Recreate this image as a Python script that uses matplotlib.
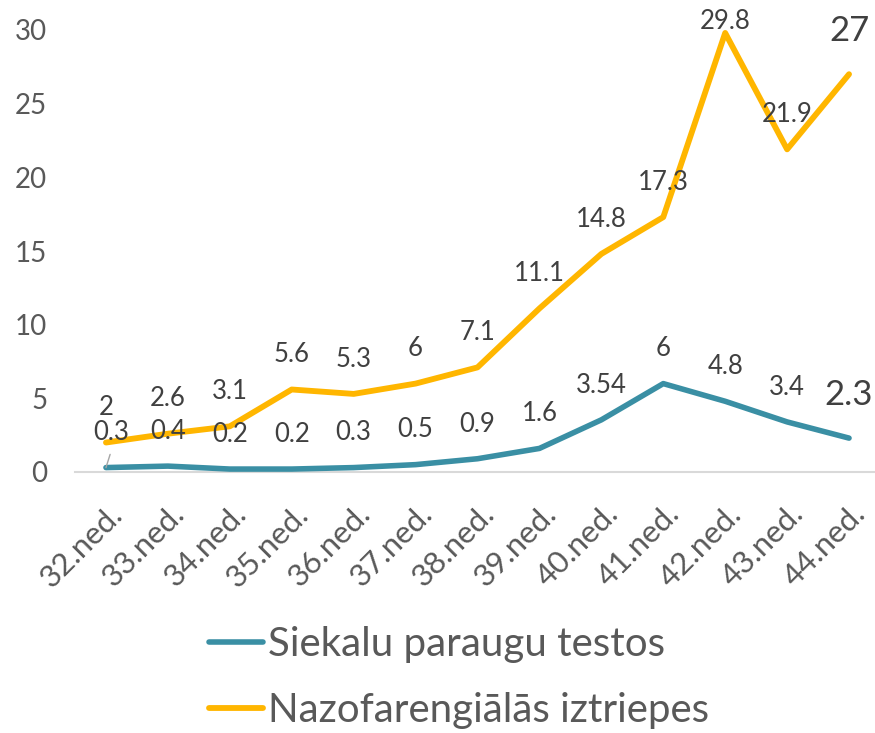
import matplotlib
matplotlib.use("Agg")
import matplotlib.pyplot as plt
from matplotlib.transforms import ScaledTranslation
from matplotlib.lines import Line2D

weeks = ["32.ned.", "33.ned.", "34.ned.", "35.ned.", "36.ned.", "37.ned.", "38.ned.",
         "39.ned.", "40.ned.", "41.ned.", "42.ned.", "43.ned.", "44.ned."]
saliva = [0.3, 0.4, 0.2, 0.2, 0.3, 0.5, 0.9, 1.6, 3.54, 6, 4.8, 3.4, 2.3]
saliva_labels = ["0.3", "0.4", "0.2", "0.2", "0.3", "0.5", "0.9", "1.6", "3.54", "6", "4.8", "3.4", "2.3"]
naso = [2, 2.6, 3.1, 5.6, 5.3, 6, 7.1, 11.1, 14.8, 17.3, 29.8, 21.9, 27]
naso_labels = ["2", "2.6", "3.1", "5.6", "5.3", "6", "7.1", "11.1", "14.8", "17.3", "29.8", "21.9", "27"]
series_names = ["Siekalu paraugu testos", "Nazofarengiālās iztriepes"]
yticks = [0, 5, 10, 15, 20, 25, 30]

TEAL = "#3A8FA4"
YELLOW = "#FFB600"
LABEL_C = "#404040"
TICK_C = "#595959"
FONT = "Lato"

plt.rcParams['font.family'] = [FONT, 'DejaVu Sans']

fig = plt.figure(figsize=(8.75, 7.33), dpi=100)
ax = fig.add_axes([75/875, (733-472)/733, 805/875, 442/733])
x = list(range(len(weeks)))

ax.plot(x, saliva, color=TEAL, lw=4.0, solid_capstyle='round', solid_joinstyle='round', zorder=3)
ax.plot(x, naso, color=YELLOW, lw=4.2, solid_capstyle='round', solid_joinstyle='round', zorder=3)

ax.set_xlim(-0.5, len(weeks) - 0.5)
ax.set_ylim(0, 30)
ax.set_yticks(yticks)
ax.set_yticklabels([str(v) for v in yticks])
ax.set_xticks(x)
ax.set_xticklabels(weeks)

for s in ["top", "right", "left"]:
    ax.spines[s].set_visible(False)
ax.spines["bottom"].set_color("#D9D9D9")
ax.spines["bottom"].set_linewidth(1.5)
ax.spines["bottom"].set_zorder(1)
ax.tick_params(axis='y', length=0, pad=20, labelsize=20, labelcolor=TICK_C)
ax.tick_params(axis='x', length=0, pad=27, labelsize=22.5, labelcolor=TICK_C)
for lab in ax.get_xticklabels():
    lab.set_rotation(45)
    lab.set_rotation_mode('anchor')
    lab.set_ha('right')
    lab.set_va('center')
    lab.set_transform(lab.get_transform() + ScaledTranslation(12/100, 0, fig.dpi_scale_trans))

n = len(weeks)
for i in range(n):
    # yellow labels
    big = (i == n - 1)
    dy = 31 if big else 25
    if naso_labels[i] == "29.8":
        dy = 8
    ax.annotate(naso_labels[i], (x[i], naso[i]), xytext=(0, dy), textcoords='offset points',
                ha='center', va='center', fontsize=25 if big else 18.5, color=LABEL_C, zorder=4)
    # teal labels
    dx = 0
    dyt = 31 if big else 25
    if i == 0:
        dx = 4
        ax.annotate('', xy=(x[i], saliva[i]), xytext=(3, 9.5), textcoords='offset points',
                    arrowprops=dict(arrowstyle='-', color='#A6A6A6', lw=1, shrinkA=0, shrinkB=0))
    ax.annotate(saliva_labels[i], (x[i], saliva[i]), xytext=(dx, dyt), textcoords='offset points',
                ha='center', va='center', fontsize=25 if big else 18.5, color=LABEL_C, zorder=4)

handles = [Line2D([], [], color=TEAL, lw=4.0, solid_capstyle='round'),
           Line2D([], [], color=YELLOW, lw=4.2, solid_capstyle='round')]
leg = fig.legend(handles, series_names, loc='upper left', bbox_to_anchor=(209/875, 1 - 626/733),
                 frameon=False, fontsize=29, handlelength=1.35, handletextpad=0.12,
                 labelspacing=0.72, borderpad=0, borderaxespad=0)
for t in leg.get_texts():
    t.set_color(TICK_C)

fig.savefig("out.png", dpi=100)
